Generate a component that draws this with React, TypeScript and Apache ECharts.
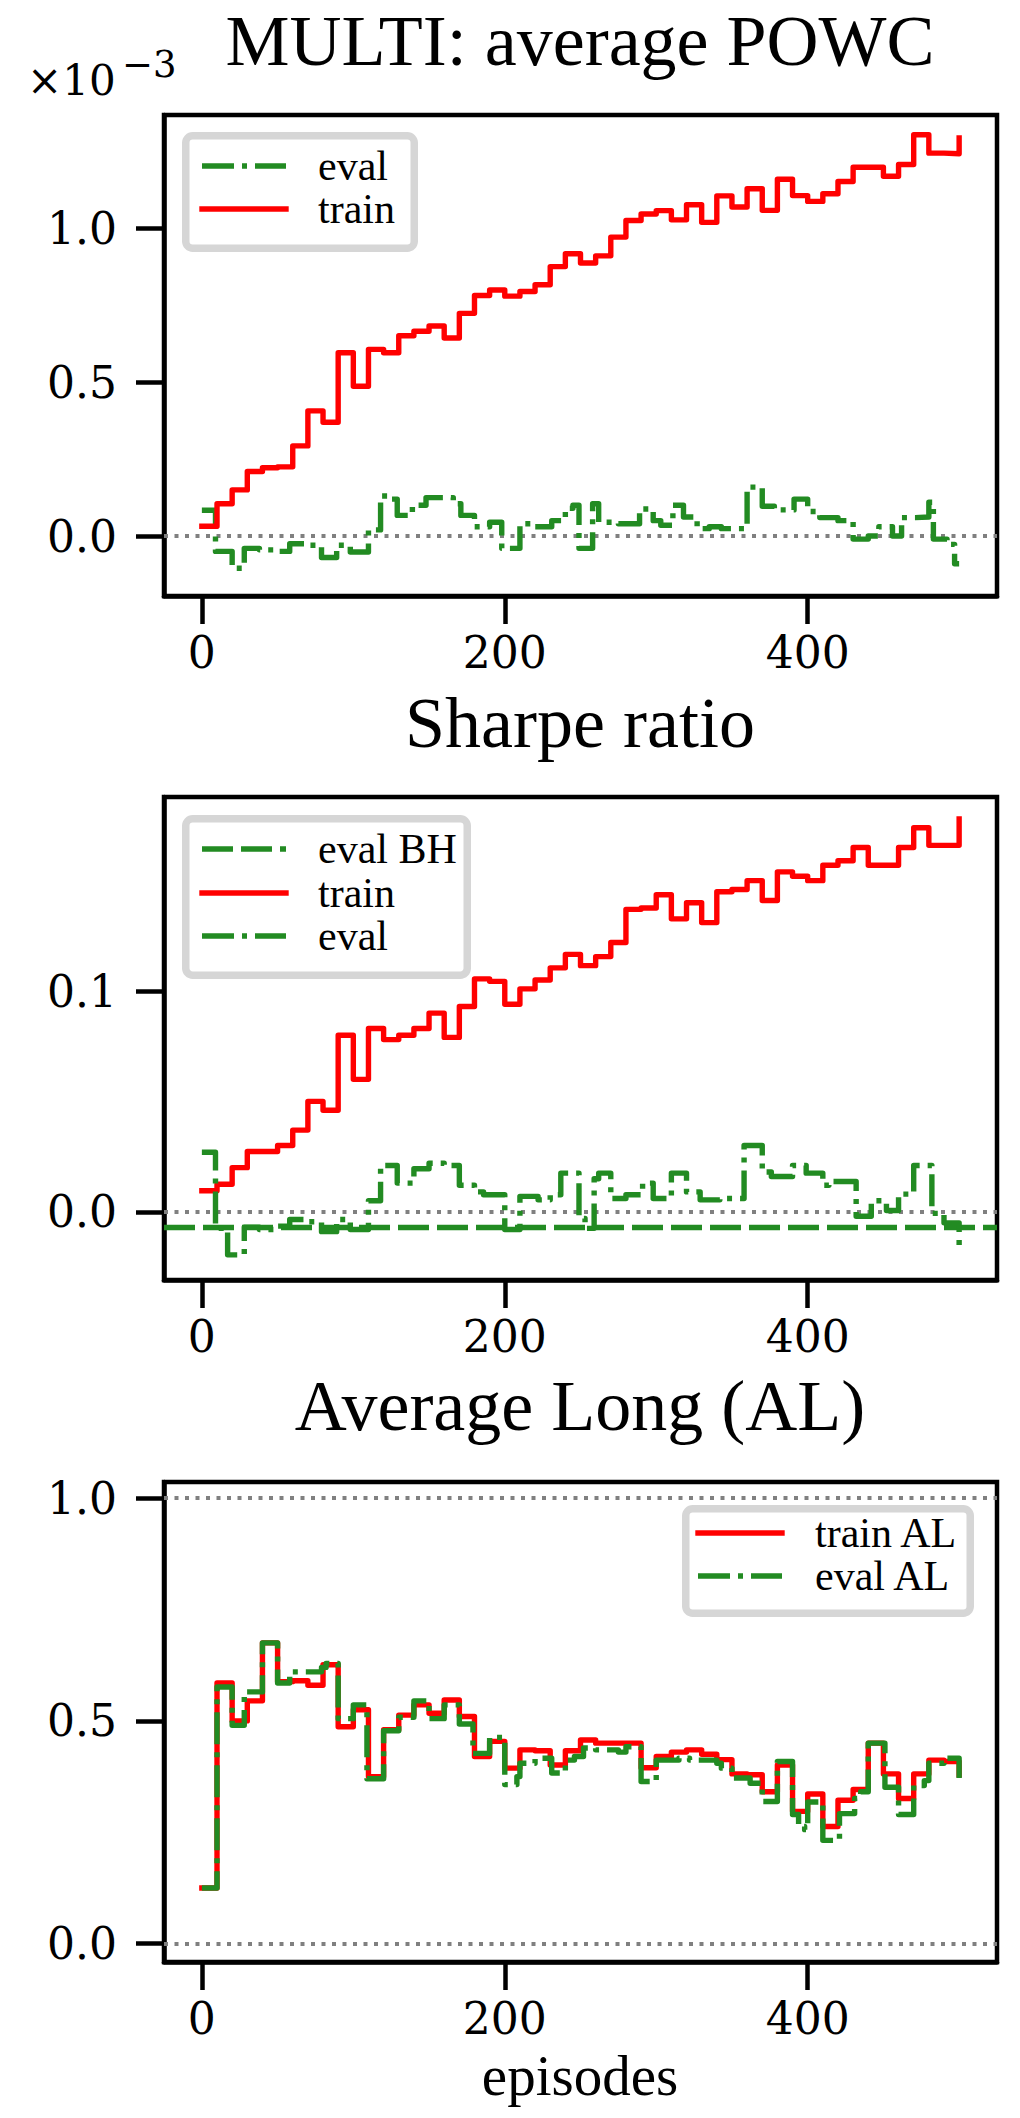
import React, { useEffect, useRef } from "react";
import * as echarts from "echarts";

// ---------- data ----------
const trainEpisodes = [0, 10, 20, 30, 40, 50, 60, 70, 80, 90, 100, 110, 120, 130, 140, 150, 160, 170, 180, 190, 200, 210, 220, 230, 240, 250, 260, 270, 280, 290, 300, 310, 320, 330, 340, 350, 360, 370, 380, 390, 400, 410, 420, 430, 440, 450, 460, 470, 480, 490, 500];

// POWC (x 1e-3)
const powcTrain = [0.032, 0.105, 0.15, 0.21, 0.222, 0.225, 0.293, 0.407, 0.37, 0.596, 0.487, 0.607, 0.596, 0.651, 0.666, 0.683, 0.644, 0.724, 0.782, 0.8, 0.78, 0.795, 0.817, 0.876, 0.918, 0.888, 0.911, 0.972, 1.026, 1.047, 1.058, 1.028, 1.077, 1.02, 1.106, 1.07, 1.129, 1.059, 1.16, 1.107, 1.088, 1.113, 1.153, 1.199, 1.199, 1.17, 1.208, 1.305, 1.245, 1.243, 1.294];
const powcEvalEpisodes = [0, 9, 20, 28, 38, 48, 58, 70, 79, 89, 98, 110, 118, 125, 129, 139, 148, 166, 171, 180, 190, 198, 210, 220, 231, 240, 245, 249, 258, 262, 275, 289, 298, 303, 311, 318, 327, 335, 343, 360, 370, 378, 391, 400, 408, 420, 430, 440, 447, 456, 462, 471, 480, 483, 492, 497, 500];
const powcEval = [0.084, -0.05, -0.105, -0.04, -0.045, -0.05, -0.025, -0.03, -0.07, -0.03, -0.052, 0.02, 0.13, 0.12, 0.067, 0.1, 0.125, 0.105, 0.067, 0.03, 0.045, -0.04, 0.04, 0.03, 0.05, 0.09, 0.1, -0.04, 0.105, 0.045, 0.04, 0.088, 0.05, 0.035, 0.1, 0.062, 0.024, 0.03, 0.024, 0.159, 0.097, 0.085, 0.12, 0.08, 0.06, 0.05, -0.01, 0.0, 0.03, 0.0, 0.06, 0.062, 0.11, -0.01, -0.027, -0.09, -0.09];

// Sharpe ratio
const sharpeTrain = [0.0095, 0.0125, 0.02, 0.0273, 0.0273, 0.03, 0.037, 0.05, 0.046, 0.08, 0.06, 0.083, 0.078, 0.08, 0.083, 0.09, 0.079, 0.093, 0.1055, 0.1044, 0.094, 0.101, 0.105, 0.1105, 0.1166, 0.1115, 0.1156, 0.122, 0.137, 0.1376, 0.1436, 0.1327, 0.14, 0.131, 0.145, 0.146, 0.15, 0.141, 0.154, 0.152, 0.15, 0.157, 0.159, 0.165, 0.157, 0.157, 0.165, 0.174, 0.166, 0.166, 0.178];
const sharpeEvalEpisodes = [0, 9, 17, 28, 38, 48, 58, 68, 79, 89, 98, 110, 118, 129, 140, 150, 160, 170, 180, 186, 200, 210, 222, 230, 237, 249, 253, 259, 262, 270, 280, 291, 298, 310, 320, 329, 342, 358, 370, 376, 390, 399, 410, 414, 432, 442, 452, 460, 470, 482, 490, 500];
const sharpeEval = [0.027, -0.0075, -0.0195, -0.007, -0.008, -0.0065, -0.0035, -0.0045, -0.009, -0.0035, -0.008, 0.005, 0.021, 0.013, 0.0195, 0.022, 0.021, 0.012, 0.009, 0.0077, -0.008, 0.007, 0.0054, 0.0077, 0.0175, -0.003, -0.0075, 0.015, 0.0175, 0.006, 0.0077, 0.013, 0.006, 0.0175, 0.009, 0.0054, 0.006, 0.03, 0.018, 0.016, 0.021, 0.0175, 0.012, 0.0137, -0.002, 0.005, 0.0006, 0.008, 0.021, -0.0007, -0.005, -0.0157];
const sharpeEvalBH = -0.0069;

// Average Long
const alTrain = [0.125, 0.585, 0.5, 0.545, 0.675, 0.588, 0.59, 0.58, 0.626, 0.487, 0.525, 0.375, 0.48, 0.513, 0.536, 0.517, 0.547, 0.51, 0.42, 0.454, 0.394, 0.435, 0.433, 0.401, 0.433, 0.457, 0.45, 0.45, 0.45, 0.395, 0.42, 0.43, 0.435, 0.425, 0.413, 0.381, 0.379, 0.341, 0.401, 0.297, 0.336, 0.263, 0.322, 0.346, 0.45, 0.381, 0.326, 0.381, 0.412, 0.409, 0.379];
const alEvalEpisodes = [0, 10, 20, 28, 40, 50, 58, 70, 79, 82, 90, 100, 109, 120, 130, 140, 150, 160, 170, 179, 190, 200, 208, 210, 220, 231, 240, 246, 252, 260, 275, 280, 290, 300, 315, 322, 340, 343, 350, 362, 370, 380, 390, 394, 398, 400, 410, 420, 421, 431, 435, 440, 451, 460, 470, 477, 480, 490, 500];
const alEval = [0.125, 0.576, 0.49, 0.565, 0.675, 0.585, 0.61, 0.61, 0.62, 0.629, 0.505, 0.536, 0.37, 0.478, 0.508, 0.545, 0.505, 0.536, 0.493, 0.427, 0.463, 0.357, 0.375, 0.405, 0.416, 0.383, 0.412, 0.42, 0.439, 0.435, 0.43, 0.442, 0.364, 0.412, 0.416, 0.412, 0.405, 0.394, 0.372, 0.36, 0.319, 0.409, 0.29, 0.263, 0.256, 0.318, 0.232, 0.235, 0.292, 0.326, 0.341, 0.45, 0.351, 0.29, 0.355, 0.366, 0.405, 0.416, 0.372];

const xTicks = [0, 200, 400];
const powcTicks = [0, 0.5, 1.0];
const sharpeTicks = [0, 0.1];
const alTicks = [0, 0.5, 1.0];
const alRefLines = [0, 1];
const titles = ["MULTI: average POWC", "Sharpe ratio", "Average Long (AL)"];
const xLabel = "episodes";
const offsetBase = "\u00d710";
const offsetExp = "\u22123";

// ---------- style ----------
const RED = "#ff0000";
const GREEN = "#228b22";
const GRAY = "#808080";
const SERIF = "'Liberation Serif', serif";
const TICKFONT = "'DejaVu Serif', serif";
const LW = 5.4;
const DASHDOT = [32, 8, 5, 8];
const DASHED = [31, 8];
const DOTTED = [4, 6.5];

const pairs = (xs: number[], ys: number[]) => xs.map((x, i) => [x, ys[i]]);

const grids = [
  { left: 164, top: 115, width: 833, height: 481 },
  { left: 164, top: 797, width: 833, height: 483 },
  { left: 164, top: 1482, width: 833, height: 480 },
];
const yRanges = [
  [-0.195, 1.369],
  [-0.0309, 0.1879],
  [-0.041, 1.036],
];
const yTickSets = [powcTicks, sharpeTicks, alTicks];

function xAxisCfg(i: number) {
  return {
    type: "value",
    gridIndex: i,
    min: -25,
    max: 525,
    axisLine: { show: true, onZero: false, lineStyle: { color: "#000", width: 4.5 } },
    axisTick: { show: true, inside: false, length: 28, lineStyle: { color: "#000", width: 4.5 }, customValues: xTicks },
    axisLabel: {
      show: true,
      margin: 39,
      color: "#000",
      fontFamily: TICKFONT,
      fontSize: 44,
      lineHeight: 34,
      customValues: xTicks,
      formatter: (v: number) => String(Math.round(v)),
    },
    splitLine: { show: false },
  };
}

function yAxisCfg(i: number) {
  return {
    type: "value",
    gridIndex: i,
    min: yRanges[i][0],
    max: yRanges[i][1],
    axisLine: { show: true, onZero: false, lineStyle: { color: "#000", width: 4.5 } },
    axisTick: { show: true, inside: false, length: 28, lineStyle: { color: "#000", width: 4.5 }, customValues: yTickSets[i] },
    axisLabel: {
      show: true,
      margin: 47,
      color: "#000",
      fontFamily: TICKFONT,
      fontSize: 44,
      customValues: yTickSets[i],
      formatter: (v: number) => v.toFixed(1),
    },
    splitLine: { show: false },
  };
}

function lineSeries(name: string, idx: number, data: number[][], color: string, dash: any, markLineData?: any[]) {
  const s: any = {
    name,
    type: "line",
    xAxisIndex: idx,
    yAxisIndex: idx,
    data,
    step: "end",
    showSymbol: false,
    symbol: "none",
    silent: true,
    lineStyle: { color, width: LW, type: dash, join: "round", cap: dash === "solid" ? "square" : "butt" },
    z: 3,
  };
  if (markLineData) {
    s.markLine = {
      silent: true,
      symbol: ["none", "none"],
      label: { show: false },
      precision: 6,
      animation: false,
      z: 2,
      data: markLineData,
    };
  }
  return s;
}

const dottedRef = (v: number) => ({ yAxis: v, lineStyle: { color: GRAY, width: 4, type: DOTTED, cap: "butt" } });

function text(t: string, x: number, y: number, size: number, family: string, align = "left", lineHeight?: number) {
  return {
    type: "text",
    z: 101,
    silent: true,
    style: {
      text: t,
      x,
      y,
      fill: "#000",
      fontSize: size,
      fontFamily: family,
      lineHeight: lineHeight || size,
      align,
      textAlign: align,
      verticalAlign: "middle",
      textVerticalAlign: "middle",
    },
  };
}

function legendBox(x0: number, y0: number, x1: number, y1: number) {
  const w = 7.5;
  return {
    type: "rect",
    z: 100,
    silent: true,
    shape: { x: x0 + w / 2, y: y0 + w / 2, width: x1 - x0 - w, height: y1 - y0 - w, r: 7 },
    style: { fill: "#ffffff", stroke: "#d6d6d6", lineWidth: w },
  };
}

function legendLine(x1: number, x2: number, y: number, color: string, dash: number[] | null) {
  return {
    type: "line",
    z: 101,
    silent: true,
    shape: { x1, y1: y, x2, y2: y },
    style: { stroke: color, lineWidth: LW, lineDash: dash || undefined, lineCap: dash ? "butt" : "square" },
  };
}

function legendEntries(items: { label: string; color: string; dash: number[] | null }[], rows: number[], lx1: number, lx2: number, tx: number) {
  const out: any[] = [];
  items.forEach((it, i) => {
    out.push(legendLine(lx1, lx2, rows[i], it.color, it.dash));
    out.push(text(it.label, tx, rows[i], 42, SERIF));
  });
  return out;
}

const TITLE_SIZE = 72;
const baselineToMiddle = (baseline: number, size: number) => baseline - 0.3375 * size;

export default function App() {
  const ref = useRef<HTMLDivElement>(null);
  useEffect(() => {
    document.body.style.margin = "0";
    if (!ref.current) return;
    const chart = echarts.init(ref.current, undefined, { renderer: "svg" });

    const graphics: any[] = [
      text(titles[0], 580, baselineToMiddle(65, TITLE_SIZE), TITLE_SIZE, SERIF, "center"),
      text(titles[1], 580, baselineToMiddle(747, TITLE_SIZE), TITLE_SIZE, SERIF, "center"),
      text(titles[2], 580, baselineToMiddle(1430, TITLE_SIZE), TITLE_SIZE, SERIF, "center"),
      text(xLabel, 580, baselineToMiddle(2095, 57), 57, SERIF, "center", 44),
      text(offsetBase, 27, 95 - 0.346 * 42, 42, TICKFONT),
      text(offsetExp, 122, 77 - 0.346 * 37, 37, TICKFONT),
      legendBox(182, 132, 418, 252),
      ...legendEntries(
        [
          { label: "eval", color: GREEN, dash: DASHDOT },
          { label: "train", color: RED, dash: null },
        ],
        [166, 209],
        202,
        286,
        318
      ),
      legendBox(182, 815, 471, 979),
      ...legendEntries(
        [
          { label: "eval BH", color: GREEN, dash: DASHED },
          { label: "train", color: RED, dash: null },
          { label: "eval", color: GREEN, dash: DASHDOT },
        ],
        [849, 893, 936],
        202,
        286,
        318
      ),
      legendBox(682, 1505, 974, 1617),
      ...legendEntries(
        [
          { label: "train AL", color: RED, dash: null },
          { label: "eval AL", color: GREEN, dash: DASHDOT },
        ],
        [1533, 1576],
        698,
        782,
        815
      ),
    ];

    const option: any = {
      animation: false,
      backgroundColor: "#ffffff",
      grid: grids.map((g) => ({
        ...g,
        show: true,
        borderColor: "#000",
        borderWidth: 4.5,
        backgroundColor: "#ffffff",
        containLabel: false,
      })),
      xAxis: [0, 1, 2].map(xAxisCfg),
      yAxis: [0, 1, 2].map(yAxisCfg),
      series: [
        lineSeries("eval", 0, pairs(powcEvalEpisodes, powcEval), GREEN, DASHDOT, [dottedRef(0)]),
        lineSeries("train", 0, pairs(trainEpisodes, powcTrain), RED, "solid"),
        lineSeries("train", 1, pairs(trainEpisodes, sharpeTrain), RED, "solid", [
          dottedRef(0),
          { yAxis: sharpeEvalBH, lineStyle: { color: GREEN, width: LW, type: DASHED, cap: "butt" } },
        ]),
        lineSeries("eval", 1, pairs(sharpeEvalEpisodes, sharpeEval), GREEN, DASHDOT),
        lineSeries("train AL", 2, pairs(trainEpisodes, alTrain), RED, "solid", alRefLines.map(dottedRef)),
        lineSeries("eval AL", 2, pairs(alEvalEpisodes, alEval), GREEN, DASHDOT),
      ],
      graphic: graphics,
    };
    chart.setOption(option);
    return () => {
      chart.dispose();
    };
  }, []);
  return <div ref={ref} style={{ width: 1020, height: 2118 }} />;
}
